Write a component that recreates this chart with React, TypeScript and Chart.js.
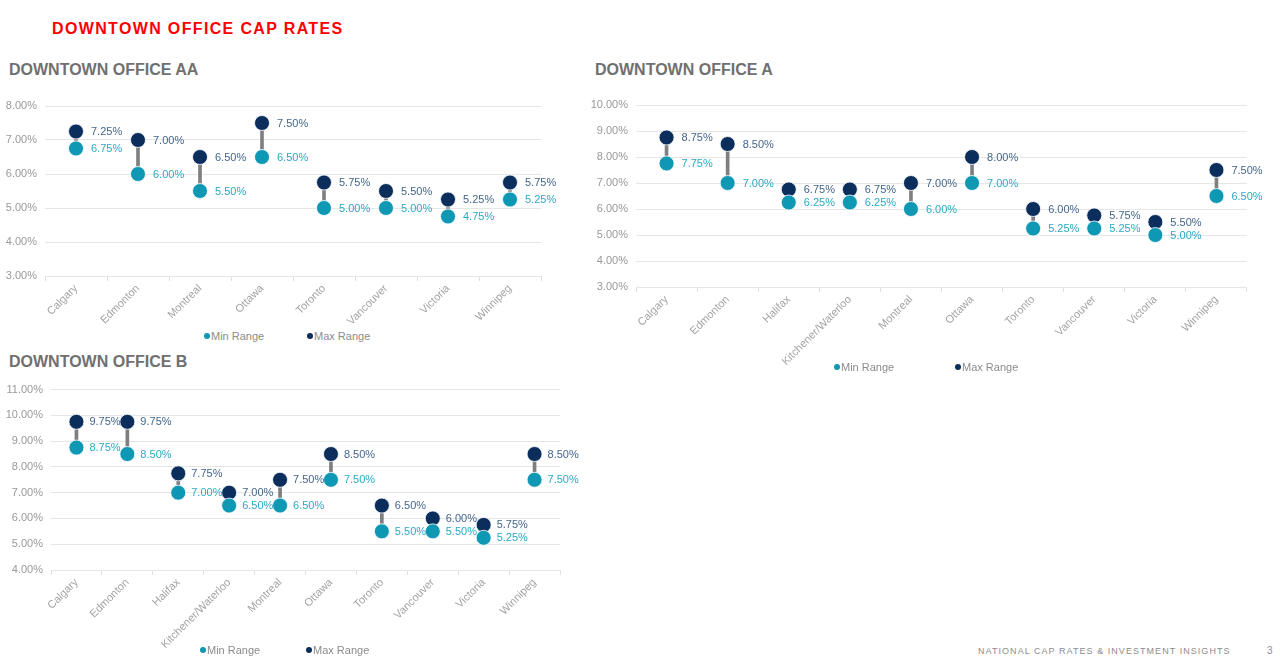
import React, { useEffect, useRef } from "react";
import { Chart, registerables } from "chart.js";

Chart.register(...registerables);

const FONT = "'Liberation Sans', Arial, Helvetica, sans-serif";
Chart.defaults.font.family = FONT;

// ---- Data ----
const seriesNames = ["Min Range", "Max Range"];

const citiesAA = ["Calgary", "Edmonton", "Montreal", "Ottawa", "Toronto", "Vancouver", "Victoria", "Winnipeg"];
const minAA = [6.75, 6.0, 5.5, 6.5, 5.0, 5.0, 4.75, 5.25];
const maxAA = [7.25, 7.0, 6.5, 7.5, 5.75, 5.5, 5.25, 5.75];

const citiesAll = [
  "Calgary", "Edmonton", "Halifax", "Kitchener/Waterloo", "Montreal",
  "Ottawa", "Toronto", "Vancouver", "Victoria", "Winnipeg",
];
const minA = [7.75, 7.0, 6.25, 6.25, 6.0, 7.0, 5.25, 5.25, 5.0, 6.5];
const maxA = [8.75, 8.5, 6.75, 6.75, 7.0, 8.0, 6.0, 5.75, 5.5, 7.5];

const minB = [8.75, 8.5, 7.0, 6.5, 6.5, 7.5, 5.5, 5.5, 5.25, 7.5];
const maxB = [9.75, 9.75, 7.75, 7.0, 7.5, 8.5, 6.5, 6.0, 5.75, 8.5];

// ---- Palette ----
const NAVY = "#0B2E5C";
const TEAL = "#0E98B4";
const NAVY_TEXT = "#44658A";
const TEAL_TEXT = "#2AA9C6";
const STEM = "#7F7F7F";
const GRID = "#E6E6E6";
const TICK_TEXT = "#A3A3A3";

const pct = (v: number) => v.toFixed(2) + "%";

// Writes each point's value to the right of its marker.
const valueLabels = {
  id: "valueLabels",
  afterDatasetsDraw(chart: any, _args: any, opts: any) {
    const ctx = chart.ctx;
    ctx.save();
    ctx.font = `11px ${FONT}`;
    ctx.textBaseline = "middle";
    ctx.textAlign = "left";
    chart.data.datasets.forEach((ds: any, i: number) => {
      if (ds.type !== "line") return;
      const meta = chart.getDatasetMeta(i);
      ctx.fillStyle = ds.labelColor;
      meta.data.forEach((pt: any, j: number) => {
        ctx.fillText(pct(ds.data[j]), pt.x + (opts.gap ?? 15), pt.y + 0.5);
      });
    });
    ctx.restore();
  },
};

type PanelProps = {
  title: string;
  titleX: number;
  titleY: number;
  labels: string[];
  mins: number[];
  maxs: number[];
  yMin: number;
  yMax: number;
  left: number;
  top: number;
  width: number;
  height: number;
  axisWidth: number;
  padTop: number;
  padRight: number;
  xAxisHeight: number;
  gap: number;
  legendY: number;
  legendMinX: number;
  legendMaxX: number;
};

function LegendItem({ x, y, color, text }: { x: number; y: number; color: string; text: string }) {
  return (
    <div
      style={{
        position: "absolute",
        left: x,
        top: y - 7,
        height: 14,
        display: "flex",
        alignItems: "center",
        font: `11px ${FONT}`,
        color: "#8C8C8C",
        whiteSpace: "nowrap",
        zIndex: 2,
      }}
    >
      <span
        style={{
          display: "inline-block",
          width: 6,
          height: 6,
          borderRadius: 3,
          background: color,
          marginRight: 1,
        }}
      />
      {text}
    </div>
  );
}

function RangePanel(p: PanelProps) {
  const ref = useRef<HTMLCanvasElement | null>(null);

  useEffect(() => {
    if (!ref.current) return;
    const chart = new Chart(ref.current, {
      type: "bar",
      data: {
        labels: p.labels,
        datasets: [
          {
            type: "bar",
            label: "range",
            data: p.mins.map((m, i) => [m, p.maxs[i]]),
            backgroundColor: STEM,
            barThickness: 3,
            order: 3,
          } as any,
          {
            type: "line",
            label: seriesNames[1],
            data: p.maxs,
            showLine: false,
            pointRadius: 7.5,
            pointBackgroundColor: NAVY,
            pointBorderColor: "#FFFFFF",
            pointBorderWidth: 0.8,
            labelColor: NAVY_TEXT,
            order: 2,
          } as any,
          {
            type: "line",
            label: seriesNames[0],
            data: p.mins,
            showLine: false,
            pointRadius: 7.5,
            pointBackgroundColor: TEAL,
            pointBorderColor: "#FFFFFF",
            pointBorderWidth: 0.8,
            labelColor: TEAL_TEXT,
            order: 1,
          } as any,
        ],
      },
      options: {
        responsive: false,
        animation: false,
        events: [],
        layout: { padding: { top: p.padTop, right: p.padRight, left: 0, bottom: 0 } },
        plugins: {
          legend: { display: false },
          tooltip: { enabled: false },
          valueLabels: { gap: p.gap },
        } as any,
        scales: {
          x: {
            offset: true,
            grid: {
              display: true,
              offset: true,
              drawOnChartArea: false,
              drawTicks: true,
              tickLength: 5,
              color: "#E0E0E0",
            },
            border: { display: false },
            ticks: {
              autoSkip: false,
              minRotation: 45,
              maxRotation: 45,
              color: TICK_TEXT,
              font: { size: 11, family: FONT },
              padding: 1,
            },
            afterFit: (s: any) => {
              s.height = p.xAxisHeight;
            },
          },
          y: {
            min: p.yMin,
            max: p.yMax,
            grid: { color: GRID, drawTicks: false, lineWidth: 1 },
            border: { display: false },
            ticks: {
              stepSize: 1,
              color: "#999999",
              font: { size: 11, family: FONT },
              padding: 8,
              callback: (v: any) => pct(Number(v)),
            },
            afterFit: (s: any) => {
              s.width = p.axisWidth;
            },
          },
        },
      } as any,
      plugins: [valueLabels],
    });
    return () => chart.destroy();
  }, []);

  return (
    <>
      <div
        style={{
          position: "absolute",
          left: p.titleX,
          top: p.titleY - 8,
          lineHeight: "16px",
          font: `bold 16px ${FONT}`,
          color: "#707070",
          whiteSpace: "nowrap",
        }}
      >
        {p.title}
      </div>
      <canvas
        ref={ref}
        width={p.width}
        height={p.height}
        style={{ position: "absolute", left: p.left, top: p.top, width: p.width, height: p.height }}
      />
      <LegendItem x={p.legendMinX} y={p.legendY} color={TEAL} text={seriesNames[0]} />
      <LegendItem x={p.legendMaxX} y={p.legendY} color={NAVY} text={seriesNames[1]} />
    </>
  );
}

export default function App() {
  return (
    <div
      style={{
        position: "fixed",
        left: 0,
        top: 0,
        width: 1280,
        height: 668,
        background: "#FFFFFF",
        overflow: "hidden",
        fontFamily: FONT,
      }}
    >
      <div
        style={{
          position: "absolute",
          left: 52,
          top: 20,
          lineHeight: "16px",
          font: `bold 16px ${FONT}`,
          letterSpacing: "1.35px",
          color: "#FF0000",
          whiteSpace: "nowrap",
        }}
      >
        DOWNTOWN OFFICE CAP RATES
      </div>

      <RangePanel
        title="DOWNTOWN OFFICE AA"
        titleX={9}
        titleY={69}
        labels={citiesAA}
        mins={minAA}
        maxs={maxAA}
        yMin={3}
        yMax={8}
        left={0}
        top={90}
        width={560}
        height={235}
        axisWidth={45}
        padTop={16}
        padRight={19}
        xAxisHeight={49}
        gap={15}
        legendY={336}
        legendMinX={204}
        legendMaxX={307}
      />

      <RangePanel
        title="DOWNTOWN OFFICE A"
        titleX={595}
        titleY={69}
        labels={citiesAll}
        mins={minA}
        maxs={maxA}
        yMin={3}
        yMax={10}
        left={580}
        top={90}
        width={690}
        height={275}
        axisWidth={56}
        padTop={15}
        padRight={23}
        xAxisHeight={78}
        gap={15}
        legendY={367}
        legendMinX={834}
        legendMaxX={955}
      />

      <RangePanel
        title="DOWNTOWN OFFICE B"
        titleX={9}
        titleY={361}
        labels={citiesAll}
        mins={minB}
        maxs={maxB}
        yMin={4}
        yMax={11}
        left={0}
        top={375}
        width={580}
        height={293}
        axisWidth={51}
        padTop={14}
        padRight={20}
        xAxisHeight={98}
        gap={13}
        legendY={650}
        legendMinX={200}
        legendMaxX={306}
      />

      <div
        style={{
          position: "absolute",
          left: 978,
          top: 646,
          lineHeight: "10px",
          font: `9px ${FONT}`,
          letterSpacing: "1.05px",
          color: "#8C8C8C",
          whiteSpace: "nowrap",
        }}
      >
        NATIONAL CAP RATES &amp; INVESTMENT INSIGHTS
      </div>
      <div
        style={{
          position: "absolute",
          left: 1267,
          top: 645,
          lineHeight: "10px",
          font: `10px ${FONT}`,
          color: "#8C8C8C",
        }}
      >
        3
      </div>
    </div>
  );
}
